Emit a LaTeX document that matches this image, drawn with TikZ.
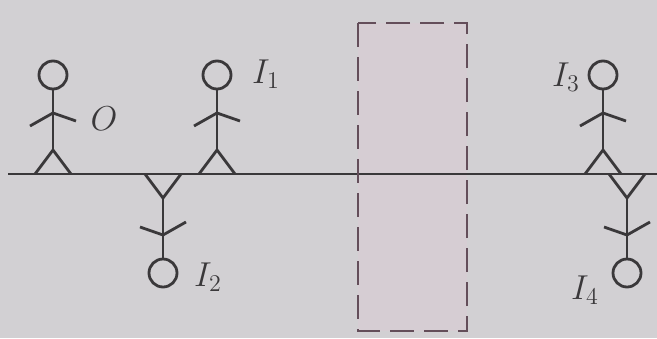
\documentclass[tikz,border=0pt]{standalone}
\definecolor{paper}{RGB}{210,208,211}
\definecolor{ink}{RGB}{58,56,58}
\definecolor{boxfill}{RGB}{214,205,211}
\definecolor{boxline}{RGB}{100,78,90}
\begin{document}
\begin{tikzpicture}
[
    x=0.5pt, y=-0.5pt,
    rod/.style={line width=1.4pt, draw=ink},
    tag/.style={font=\fontsize{18}{20}\selectfont, text=ink},
    person/.pic={
        \draw[rod] (-18,0) -- (0,-24) -- (18,0);
        \draw[rod] (0,-24) -- (0,-85);
        \draw[rod] (-23,-48) -- (0,-61) -- (23,-53);
        \draw[rod] (0,-99) circle[radius=7pt];
    },
]
\fill[paper] (0,0) rectangle (657,338);
\useasboundingbox (0,0) rectangle (657,338);

% the screen across the rod
\fill[boxfill] (358,23) rectangle (467,331);

% the rod
\coordinate (left) at (8,174);
\coordinate (right) at (657,174);
\draw[rod] (left) -- (right);

\draw[boxline, line width=1.4pt, dash pattern=on 12pt off 5pt] (358,23) rectangle (467,331);

% people above and below the rod
\pic at (53,174) {person};
\pic at (217,174) {person};
\pic[rotate=180] at (163,174) {person};
\pic at (603,174) {person};
\pic[rotate=180] at (627,174) {person};

\node[tag] (o) at (104,119) {$O$};
\node[tag] (i1) at (266,74) {$I_1$};
\node[tag] (i2) at (208,277) {$I_2$};
\node[tag] (i3) at (566,77) {$I_3$};
\node[tag] (i4) at (585,290) {$I_4$};
\end{tikzpicture}
\end{document}
